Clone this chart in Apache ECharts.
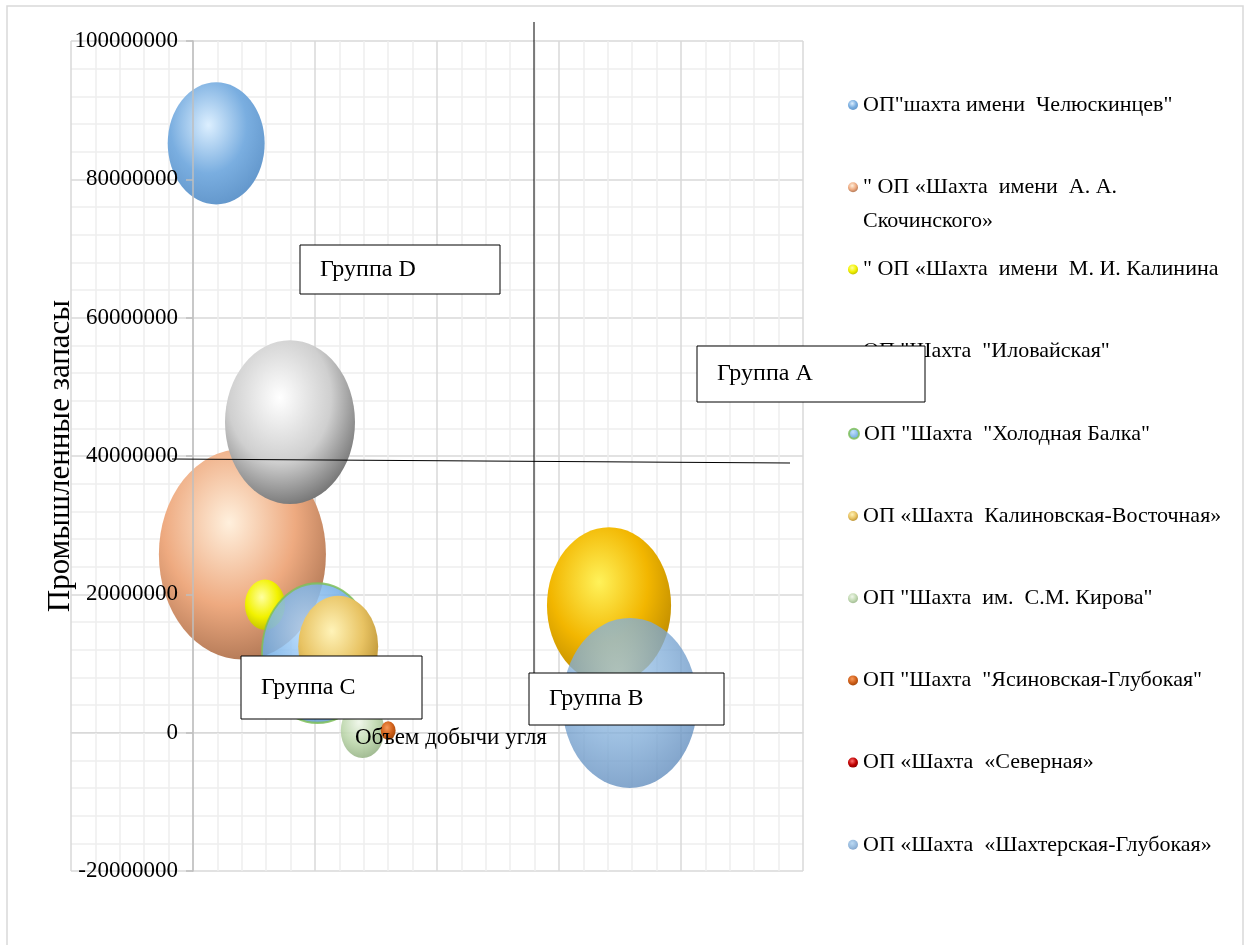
<!DOCTYPE html>
<html>
<head>
<meta charset="utf-8">
<script src="https://cdn.jsdelivr.net/npm/echarts@6/dist/echarts.min.js"></script>
<style>
    html, body { margin: 0; padding: 0; background: #fff; }
    #main { width: 1245px; height: 945px; }
</style>
</head>
<body>
<div id="main"></div>
<script>
// названия шахт (пустое имя - пузырь без подписи в легенде)
var mineNames = [
    'ОП"шахта имени  Челюскинцев"',
    '" ОП «Шахта  имени  А. А. Скочинского»',
    '" ОП «Шахта  имени  М. И. Калинина',
    'ОП "Шахта  "Иловайская"',
    'ОП "Шахта  "Холодная Балка"',
    'ОП «Шахта  Калиновская-Восточная»',
    'ОП "Шахта  им.  С.М. Кирова"',
    'ОП "Шахта  "Ясиновская-Глубокая"',
    'ОП «Шахта  «Северная»',
    '',
    'ОП «Шахта  «Шахтерская-Глубокая»'
];
// объем добычи угля
var coalOutput = [190000, 405000, 590000, 795000, 1020000, 1190000, 1390000, 1600000, 1560000, 3410000, 3580000];
// промышленные запасы
var reserves = [85200000, 25800000, 18500000, 44900000, 11500000, 12500000, 300000, 300000, 200000, 18400000, 4300000];
// размер пузыря
var bubbleSize = [94, 279, 16, 169, 123, 64, 19, 2.2, 0, 154, 182];

var yTicks = {min: -20000000, max: 100000000, step: 20000000};

var baseColors = [
    ['#dcefff', '#7aaee0', '#5f93c8'],
    ['#fff0dd', '#eeaa80', '#a8704f'],
    ['#ffffa0', '#f2f200', '#b8b800'],
    ['#ffffff', '#cfcfcf', '#666666'],
    ['#b8dcff', '#72aee6', '#5c93c6'],
    ['#fff3b8', '#e8c363', '#b38a2c'],
    ['#eef6e8', '#bcd6ab', '#90ad80'],
    ['#f89a5a', '#d0601a', '#9a4308'],
    ['#ff7070', '#c00000', '#800000'],
    ['#fff25a', '#f2b600', '#b58400'],
    ['#a8cff0', '#7eaad6', '#5a86b8']
];
var opacities = [1, 1, 1, 1, 0.85, 1, 0.9, 1, 1, 1, 0.78];

function sphere(c) {
    return {
        type: 'radial', x: 0.42, y: 0.35, r: 0.72,
        colorStops: [
            {offset: 0, color: c[0]},
            {offset: 0.55, color: c[1]},
            {offset: 1, color: c[2]}
        ]
    };
}

var serif = 'Liberation Serif';

var series = [];
for (var i = 0; i < mineNames.length; ++i) {
    var st = {color: sphere(baseColors[i]), opacity: opacities[i]};
    if (i === 4) {
        st.borderColor = '#7fbf5a';
        st.borderWidth = 2;
    }
    series.push({
        name: mineNames[i],
        type: 'scatter',
        data: [[coalOutput[i], reserves[i], bubbleSize[i]]],
        symbol: 'circle',
        symbolSize: function (val) {
            var d = 10 * Math.sqrt(val[2]);
            return [d, d * 1.26];
        },
        itemStyle: st,
        emphasis: {disabled: true}
    });
}

// легенда - по одному элементу, с равным шагом
var legends = [];
var legendIdx = 0;
var lh = 34;
for (var j = 0; j < mineNames.length; ++j) {
    if (mineNames[j] === '') continue;
    var center = 100 + legendIdx * 82.2;
    var twoLine = mineNames[j].indexOf('Скочинского') >= 0;
    legends.push({
        data: [mineNames[j]],
        orient: 'vertical',
        left: 843,
        top: twoLine ? center - 1.5 * lh : center - lh / 2,
        icon: 'circle',
        itemWidth: 10,
        itemHeight: 10,
        selectedMode: false,
        formatter: function (name) {
            if (name.indexOf('Скочинского') >= 0) {
                return '\n" ОП «Шахта  имени  А. А.\nСкочинского»';
            }
            return name;
        },
        textStyle: {fontFamily: serif, fontSize: 22, color: '#000', lineHeight: lh}
    });
    legendIdx++;
}

function box(x, y, w, h, label) {
    return [
        {type: 'rect', z: 100, shape: {x: x, y: y, width: w, height: h},
            style: {fill: '#fff', stroke: '#000', lineWidth: 1}},
        {type: 'text', z: 101, x: x + 20, y: y + h / 2,
            style: {text: label, font: '24px "' + serif + '"', fill: '#000', verticalAlign: 'middle'}}
    ];
}

var graphics = [
    {type: 'rect', z: 0, shape: {x: 7, y: 6, width: 1236, height: 1000},
        style: {fill: null, stroke: '#d9d9d9', lineWidth: 1.5}},
    {type: 'line', z: 99, shape: {x1: 172, y1: 459, x2: 790, y2: 463},
        style: {stroke: '#000', lineWidth: 1}},
    {type: 'line', z: 99, shape: {x1: 534, y1: 22, x2: 534, y2: 690},
        style: {stroke: '#000', lineWidth: 1}},
    {type: 'text', z: 101, x: 355, y: 738,
        style: {text: 'Объем добычи угля', font: '23px "' + serif + '"', fill: '#000', verticalAlign: 'middle'}}
].concat(
    box(300, 245, 200, 49, 'Группа D'),
    box(697, 346, 228, 56, 'Группа A'),
    box(241, 656, 181, 63, 'Группа C'),
    box(529, 673, 195, 52, 'Группа B')
);

var chart = echarts.init(document.getElementById('main'));

var option = {
    backgroundColor: '#fff',
    animation: false,
    grid: {left: 71, right: 442, top: 41, bottom: 74, containLabel: false, outerBoundsMode: 'none'},
    xAxis: {
        type: 'value',
        min: -1000000,
        max: 5000000,
        interval: 1000000,
        axisLine: {onZero: true, lineStyle: {color: '#d9d9d9'}},
        axisTick: {show: false},
        axisLabel: {show: false},
        splitLine: {show: true, lineStyle: {color: '#d9d9d9', width: 1.5}},
        minorTick: {show: false, splitNumber: 5},
        minorSplitLine: {show: true, lineStyle: {color: '#eeeeee', width: 1.5}}
    },
    yAxis: [
        {
            // сетка
            type: 'value',
            min: yTicks.min,
            max: yTicks.max,
            interval: yTicks.step,
            axisLine: {show: false},
            axisTick: {show: false},
            axisLabel: {show: false},
            splitLine: {show: true, lineStyle: {color: '#d9d9d9', width: 1.5}},
            minorTick: {show: false, splitNumber: 5},
            minorSplitLine: {show: true, lineStyle: {color: '#eeeeee', width: 1.5}}
        },
        {
            // ось Y пересекает ось X в нуле (одно деление правее края), подписи поверх пузырей
            type: 'value',
            z: 5,
            min: yTicks.min,
            max: yTicks.max,
            interval: yTicks.step,
            position: 'left',
            offset: -122,
            name: 'Промышленные запасы',
            nameLocation: 'middle',
            nameRotate: 90,
            nameGap: 117,
            nameMoveOverlap: false,
            nameTextStyle: {fontFamily: serif, fontSize: 31, color: '#000'},
            axisLine: {show: true, onZero: false, lineStyle: {color: '#bfbfbf', width: 1.5}},
            axisTick: {show: true, length: 7, lineStyle: {color: '#bfbfbf', width: 1.5}},
            axisLabel: {
                fontFamily: serif, fontSize: 23, color: '#000', margin: 15,
                formatter: function (v) { return String(v); }
            },
            splitLine: {show: false}
        }
    ],
    legend: legends,
    series: series,
    graphic: graphics
};

chart.setOption(option);
</script>
</body>
</html>
